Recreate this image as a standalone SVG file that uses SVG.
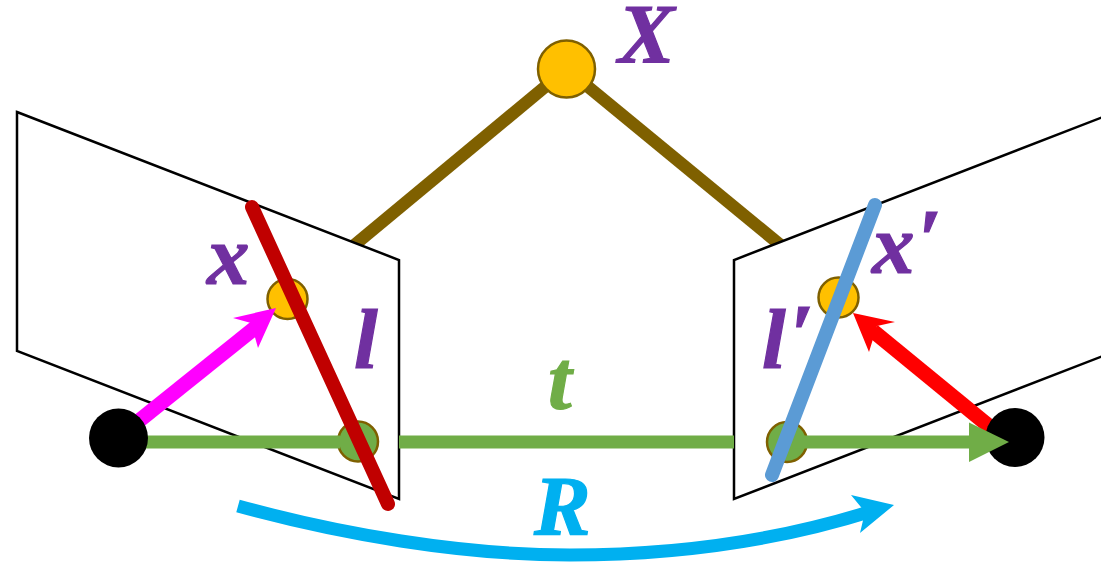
<svg xmlns="http://www.w3.org/2000/svg" width="1101" height="563" viewBox="0 0 1101 563">
<style>
.plane{fill:#fff;stroke:#000;stroke-width:2.5}
.ray{stroke:#7F6000;stroke-width:12.500;fill:none}
.pt{stroke:#7F6000;stroke-width:2.5}
.yellow{fill:#FFC000}
.green{fill:#70AD47}
.cam{fill:#000}
.lbl{font-family:"Liberation Serif",serif;font-style:italic;font-weight:bold;font-size:85px;stroke-width:1.2}
.purple{fill:#7030A0;stroke:#7030A0}
</style>
<rect width="1101" height="563" fill="#fff"/>
<g id="rays">
<path class="ray" d="M566.500 69L340 257"/>
<path class="ray" d="M566.500 69L795 257"/>
</g>
<g id="plane-left"><path class="plane" d="M17 112L399 260V499L17 351Z"/></g>
<g id="plane-right"><path class="plane" d="M1103 117L734 260V499L1103 356"/></g>
<g id="point-X"><circle class="pt yellow" cx="566.500" cy="69" r="28.500"/></g>
<g id="point-x"><circle class="pt yellow" cx="287.500" cy="299" r="20"/></g>
<g id="point-x-prime"><circle class="pt yellow" cx="838.500" cy="297.500" r="20"/></g>
<g id="epipole-left"><circle class="pt green" cx="358" cy="441.500" r="20"/></g>
<g id="epipole-right"><circle class="pt green" cx="787" cy="442" r="20"/></g>
<g id="connectors">
<path d="M118 442H340M399 442H734M787 442H972" stroke="#70AD47" stroke-width="13" fill="none"/>
<path d="M135 424L256 327" stroke="#FF00FF" stroke-width="15" fill="none"/>
<path d="M276 308L233 318L251 323L258 348Z" fill="#FF00FF"/>
<path d="M995 431L873 331" stroke="#FF0000" stroke-width="15" fill="none"/>
<path d="M853 313L895 322L877 326L869 352Z" fill="#FF0000"/>
<path d="M252 207L388 504" stroke="#C00000" stroke-width="14" stroke-linecap="round" fill="none"/>
<path d="M875 205L772 475" stroke="#5B9BD5" stroke-width="14" stroke-linecap="round" fill="none"/>
<path d="M238 506C340 534 460 555 570 555C680 555 780 540 872 511" stroke="#00B0F0" stroke-width="13" fill="none"/>
<path d="M894 505L851 495L865 512L860 533Z" fill="#00B0F0"/>
</g>
<g id="camera-left"><circle class="cam" cx="118.500" cy="438" r="29.500"/></g>
<g id="camera-right"><circle class="cam" cx="1015" cy="437.500" r="29.500"/></g>
<path id="t-arrowhead" d="M969 422.500L1009 442L969 462Z" fill="#70AD47"/>
<g id="labels">
<text class="lbl purple" x="618" y="63">X</text>
<text class="lbl purple" x="207" y="284">x</text>
<text class="lbl purple" x="872" y="273">x<tspan dx="3" dy="-5">′</tspan></text>
<text class="lbl purple" x="354" y="368">l</text>
<text class="lbl purple" x="762" y="368">l<tspan dx="4" dy="-5">′</tspan></text>
<text class="lbl" fill="#70AD47" stroke="#70AD47" x="548" y="409">t</text>
<text class="lbl" fill="#00B0F0" stroke="#00B0F0" x="534" y="535">R</text>
</g>
</svg>
